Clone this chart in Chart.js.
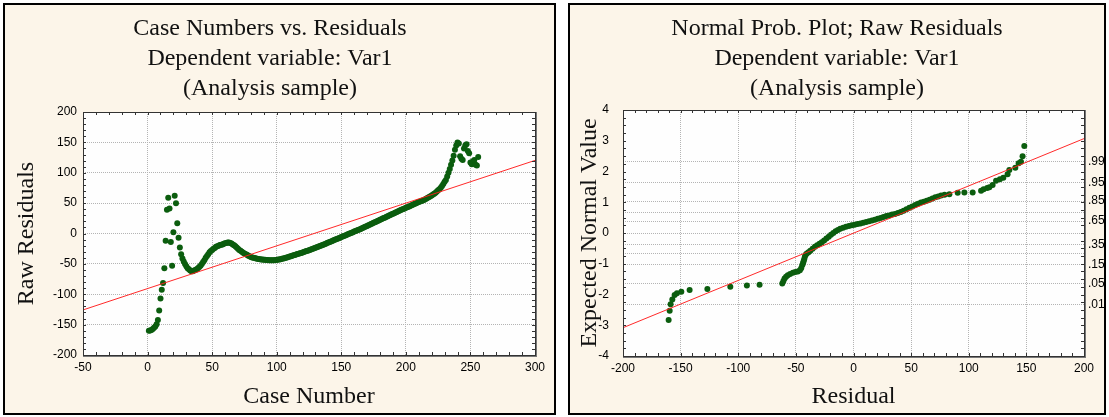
<!DOCTYPE html>
<html>
<head>
<meta charset="utf-8">
<script src="https://cdn.jsdelivr.net/npm/chart.js@4"></script>
<style>
  html, body { margin: 0; padding: 0; background: #fff; }
  body { width: 1109px; height: 417px; position: relative; overflow: hidden; }
  .panel { position: absolute; top: 3px; height: 408px; border: 2px solid #000; background: #fcf5e9; }
  #leftPanel { left: 3px; width: 549px; }
  #rightPanel { left: 568px; width: 534px; }
  canvas { display: block; }
</style>
</head>
<body>
<div class="panel" id="leftPanel"><canvas id="caseChart" width="549" height="408"></canvas></div>
<div class="panel" id="rightPanel"><canvas id="probChart" width="534" height="408"></canvas></div>
<script>
// residual for each case, case number = position in the list (1..256)
const rawResiduals = [
  -160, -159.5, -158.7, -157.2, -155.2, -153.2, -149.4, -142.2, -126.8, -106.9,
  -92.5, -81.5, -57, -12, 39, 59, 41, -14, -53, 2,
  62, 50, 17, -7, -23, -34, -41, -46, -50, -54,
  -57, -59, -61, -62, -62, -61, -60, -59, -57, -55,
  -53, -50, -47, -44, -40, -37, -34, -31, -29, -27,
  -25, -24, -22, -21, -20, -19, -18.5, -18, -17, -16,
  -15.5, -15, -15, -15.5, -16.5, -18, -19.5, -21, -23, -25,
  -27, -28.5, -30, -31.5, -33, -34, -35, -36.5, -37.5, -38.5,
  -39.5, -40, -40.5, -41, -41.5, -42, -42.3, -42.6, -43, -43.2,
  -43.4, -43.6, -43.8, -44, -44, -44, -44, -44, -43.8, -43.5,
  -43, -42.6, -42.2, -41.7, -41.2, -40.6, -40, -39.4, -38.7, -38,
  -37.3, -36.6, -35.9, -35.2, -34.5, -33.8, -33.2, -32.6, -32, -31.4,
  -30.6, -29.8, -29, -28.2, -27.4, -26.6, -25.8, -25, -24.2, -23.4,
  -22.6, -21.8, -21, -20.2, -19.4, -18.5, -17.6, -16.7, -15.8, -14.9,
  -14, -13.1, -12.2, -11.3, -10.4, -9.5, -8.6, -7.7, -6.8, -5.9,
  -5, -4.1, -3.2, -2.3, -1.4, -0.5, 0.4, 1.3, 2.2, 3.1,
  4, 4.9, 5.8, 6.7, 7.6, 8.5, 9.5, 10.5, 11.5, 12.5,
  13.5, 14.5, 15.5, 16.5, 17.5, 18.5, 19.5, 20.5, 21.5, 22.5,
  23.5, 24.5, 25.5, 26.5, 27.5, 28.5, 29.5, 30.5, 31.5, 32.5,
  33.5, 34.5, 35.5, 36.5, 37.5, 38.5, 39.5, 40.4, 41.3, 42.2,
  43.1, 44, 45, 46, 47, 48, 49, 50, 51, 52,
  52.5, 53.3, 54.2, 55.2, 56.3, 57.5, 58.7, 60, 61.3, 62.6,
  64, 65.3, 67, 69, 71, 73, 75.5, 78, 81.5, 85,
  88, 94, 100, 106, 113, 120, 128, 138, 145, 150,
  148, 127, 123, 121, 140, 145, 147, 136, 132, 117,
  114, 119, 121, 113, 112, 126
];
const caseFitX = [-50, 300];
const caseFitY = [-125.8, 120.3];

// normal probability plot
const sortedResiduals = [
  -160.4, -159.5, -158.7, -157.2, -155.2, -153.2, -149.4, -142.2, -126.8, -106.9,
  -92.5, -81.5, -61.8, -60.8, -59.8, -58.5, -57, -55, -52.6, -50.5,
  -48.3, -46.5, -45.4, -44.5, -43.8, -43.3, -42.8, -42.2, -41.5, -40.5,
  -39, -37.5, -35.5, -33.5, -31.5, -29.5, -27.5, -25.5, -23.5, -21.5,
  -19.5, -17.5, -15.5, -13.5, -11.5, -9, -6.5, -4, -1.5, 1,
  3.5, 6, 8.5, 11, 13.5, 16, 18.5, 21, 23.5, 26,
  28.5, 31, 33.5, 36, 38.5, 41, 43.5, 46, 48.5, 51,
  53.5, 56, 58.5, 61, 63.5, 66, 68.5, 71, 73.5, 76,
  79, 83.2, 90.4, 96.2, 103.4, 110.7, 112.9, 116, 117.9, 120.7,
  123.7, 127, 130, 133.7, 135.2, 140.4, 143.3, 145.3, 146.7, 148.2
];
const expectedNormal = [
  -2.83, -2.53, -2.32, -2.16, -2.02, -1.96, -1.91, -1.85, -1.82, -1.75,
  -1.71, -1.68, -1.64, -1.56, -1.48, -1.42, -1.37, -1.33, -1.29, -1.27,
  -1.25, -1.21, -1.15, -1.05, -0.98, -0.92, -0.85, -0.77, -0.71, -0.67,
  -0.63, -0.58, -0.51, -0.45, -0.40, -0.35, -0.30, -0.24, -0.18, -0.12,
  -0.06, 0.00, 0.06, 0.10, 0.14, 0.17, 0.20, 0.23, 0.25, 0.27,
  0.29, 0.31, 0.33, 0.36, 0.38, 0.41, 0.43, 0.46, 0.49, 0.52,
  0.55, 0.57, 0.60, 0.62, 0.65, 0.68, 0.72, 0.77, 0.82, 0.86,
  0.91, 0.95, 0.99, 1.02, 1.05, 1.08, 1.12, 1.16, 1.19, 1.22,
  1.24, 1.26, 1.31, 1.32, 1.32, 1.37, 1.42, 1.46, 1.49, 1.56,
  1.70, 1.75, 1.80, 1.91, 2.05, 2.12, 2.27, 2.32, 2.50, 2.83
];
const probFitX = [-200, 200];
const probFitY = [-3.08, 3.07];

// right-hand probability axis
const probTickValues = [2.326, 1.645, 1.036, 0.674, 0.385, 0, -0.385, -0.674, -1.036, -1.645, -2.326];
const probTickLabels = ['.99', '.95', '.85', '', '.65', '', '.35', '', '.15', '.05', '.01'];

const GREEN = '#0b5d0e';
const RED = 'rgba(255,30,30,0.95)';
const GRID = '#b4b4b4';
const serif = "'Liberation Serif', 'Times New Roman', serif";
const sans = "'Liberation Sans', Arial, sans-serif";

// white plot area, dark frame with small inward ticks
const frameTicks = {
    id: 'frameTicks',
    beforeDraw(chart) {
        const { ctx, chartArea: a } = chart;
        ctx.save();
        ctx.fillStyle = '#fefefe';
        ctx.fillRect(a.left, a.top, a.right - a.left, a.bottom - a.top);
        ctx.restore();
    },
    afterDraw(chart, args, opts) {
        const { ctx, chartArea: a, scales } = chart;
        const xs = scales.x, ys = scales.y;
        ctx.save();
        ctx.strokeStyle = '#333';
        ctx.lineWidth = 1;
        ctx.beginPath();
        for (let v = xs.min; v <= xs.max + 1e-9; v += opts.xStep) {
            const px = Math.round(xs.getPixelForValue(v)) + 0.5;
            ctx.moveTo(px, a.bottom); ctx.lineTo(px, a.bottom - 3);
            ctx.moveTo(px, a.top); ctx.lineTo(px, a.top + 3);
        }
        for (let v = ys.min; v <= ys.max + 1e-9; v += opts.yStep) {
            const py = Math.round(ys.getPixelForValue(v)) + 0.5;
            ctx.moveTo(a.left, py); ctx.lineTo(a.left + 3, py);
            ctx.moveTo(a.right, py); ctx.lineTo(a.right - 3, py);
        }
        ctx.stroke();
        ctx.strokeRect(Math.round(a.left) + 0.5, Math.round(a.top) + 0.5,
            Math.round(a.right - a.left), Math.round(a.bottom - a.top));
        ctx.strokeStyle = '#777';
        ctx.beginPath();
        ctx.moveTo(Math.round(a.right) + 1.5, a.top); ctx.lineTo(Math.round(a.right) + 1.5, a.bottom + 2);
        ctx.moveTo(a.left, Math.round(a.bottom) + 1.5); ctx.lineTo(a.right + 2, Math.round(a.bottom) + 1.5);
        ctx.stroke();
        ctx.restore();
    }
};

function titleOpts(lines, padBottom) {
    return {
        display: true,
        text: lines,
        color: '#111',
        font: { family: serif, size: 24, weight: 'normal', lineHeight: '30px' },
        padding: { top: 9, bottom: padBottom }
    };
}

function axisTitle(text, pad) {
    return {
        display: true,
        text: text,
        color: '#111',
        font: { family: serif, size: 24, weight: 'normal', lineHeight: 1.2 },
        padding: pad
    };
}

const tickFont = { family: sans, size: 12 };

new Chart(document.getElementById('caseChart'), {
    type: 'scatter',
    data: {
        datasets: [{
            type: 'line',
            data: caseFitX.map((x, i) => ({ x: x, y: caseFitY[i] })),
            borderColor: RED,
            borderWidth: 1,
            pointRadius: 0,
            order: 0
        }, {
            data: rawResiduals.map((r, i) => ({ x: i + 1, y: r })),
            backgroundColor: GREEN,
            borderWidth: 0,
            pointRadius: 3,
            order: 1
        }]
    },
    options: {
        responsive: false,
        animation: false,
        events: [],
        layout: { padding: { right: 19 } },
        plugins: {
            legend: { display: false },
            tooltip: { enabled: false },
            title: titleOpts(['Case Numbers vs. Residuals', 'Dependent variable: Var1', '(Analysis sample)'], 8),
            frameTicks: { xStep: 10, yStep: 10 }
        },
        scales: {
            x: {
                min: -50, max: 300,
                ticks: { stepSize: 50, color: '#000', font: tickFont, padding: 5, maxRotation: 0 },
                grid: { color: GRID, drawTicks: false },
                border: { display: false, dash: [1, 1] },
                title: axisTitle('Case Number', { top: 0, bottom: 2 }),
                afterFit: (s) => { s.height = 58; }
            },
            y: {
                min: -200, max: 200,
                ticks: { stepSize: 50, color: '#000', font: tickFont, padding: 6 },
                grid: { color: GRID, drawTicks: false },
                border: { display: false, dash: [1, 1] },
                title: axisTitle('Raw Residuals', { top: 7, bottom: 0 }),
                afterFit: (s) => { s.width = 78; }
            }
        }
    },
    plugins: [frameTicks]
});

new Chart(document.getElementById('probChart'), {
    type: 'scatter',
    data: {
        datasets: [{
            type: 'line',
            data: probFitX.map((x, i) => ({ x: x, y: probFitY[i] })),
            borderColor: RED,
            borderWidth: 1,
            pointRadius: 0,
            order: 0
        }, {
            data: sortedResiduals.map((r, i) => ({ x: r, y: expectedNormal[i] })),
            backgroundColor: GREEN,
            borderWidth: 0,
            pointRadius: 3,
            order: 1
        }]
    },
    options: {
        responsive: false,
        animation: false,
        events: [],
        plugins: {
            legend: { display: false },
            tooltip: { enabled: false },
            title: titleOpts(['Normal Prob. Plot; Raw Residuals', 'Dependent variable: Var1', '(Analysis sample)'], 6),
            frameTicks: { xStep: 10, yStep: 0.25 }
        },
        scales: {
            x: {
                min: -200, max: 200,
                ticks: { stepSize: 50, color: '#000', font: tickFont, padding: 5, maxRotation: 0 },
                grid: { color: GRID, drawTicks: false },
                border: { display: false, dash: [1, 1] },
                title: axisTitle('Residual', { top: 0, bottom: 2 }),
                afterFit: (s) => { s.height = 57; }
            },
            y: {
                min: -4, max: 4,
                ticks: { stepSize: 1, color: '#000', font: tickFont, padding: 6 },
                grid: { display: false },
                border: { display: false },
                title: axisTitle('Expected Normal Value', { top: 5, bottom: 0 }),
                afterFit: (s) => { s.width = 53; }
            },
            y2: {
                position: 'right',
                min: -4, max: 4,
                afterBuildTicks: (s) => { s.ticks = probTickValues.map(v => ({ value: v })); },
                ticks: {
                    autoSkip: false,
                    color: '#000',
                    font: tickFont,
                    padding: 4,
                    callback: (v, i) => probTickLabels[i]
                },
                grid: { color: GRID, drawTicks: false },
                border: { display: false, dash: [1, 1] },
                afterFit: (s) => { s.width = 20; }
            }
        }
    },
    plugins: [frameTicks]
});
</script>
</body>
</html>
